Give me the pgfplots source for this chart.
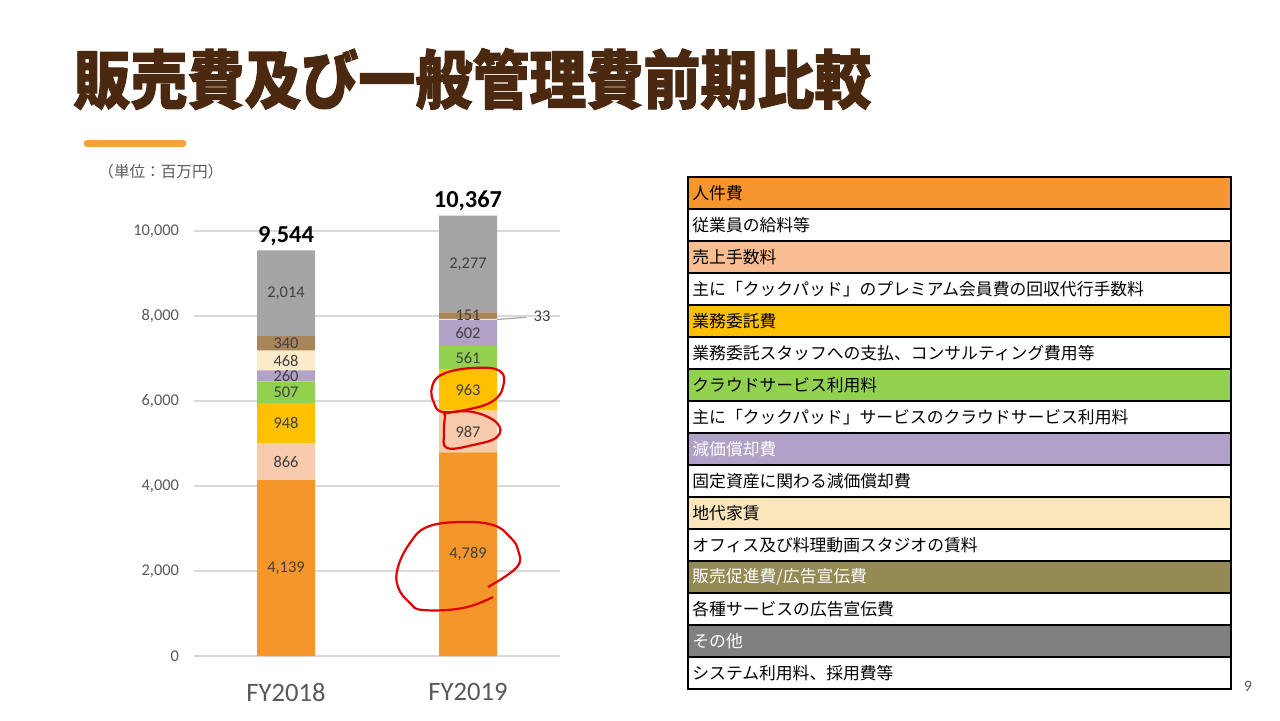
\documentclass[border=0pt]{standalone}
\usepackage{pgfplots}
\usepackage{pgfplotstable}
\pgfplotsset{compat=1.18}
\usepackage{fontspec}
\setmainfont{Carlito}
\newfontfamily\cjk{Noto Sans CJK JP}
\newfontfamily\cjktitle[BoldFeatures={FakeBold=1.6}]{Noto Sans CJK JP}

\definecolor{cPers}{HTML}{F4962B}
\definecolor{cFee}{HTML}{F8CBAD}
\definecolor{cOut}{HTML}{FFC000}
\definecolor{cCloud}{HTML}{92D050}
\definecolor{cDep}{HTML}{B3A2C7}
\definecolor{cRent}{HTML}{FCEBCB}
\definecolor{cAd}{HTML}{A9855A}
\definecolor{cOther}{HTML}{A5A5A5}
\definecolor{gridgray}{HTML}{D9D9D9}
\definecolor{labgray}{HTML}{595959}
\definecolor{valgray}{HTML}{404040}
\definecolor{titlebrown}{HTML}{4A2910}
\definecolor{lineorange}{HTML}{F4A23F}
\definecolor{hPers}{HTML}{F7962F}
\definecolor{hFee}{HTML}{F8BD91}
\definecolor{hOut}{HTML}{FFC000}
\definecolor{hCloud}{HTML}{92D050}
\definecolor{hDep}{HTML}{B1A0C7}
\definecolor{hRent}{HTML}{FBE6BC}
\definecolor{hAd}{HTML}{948A54}
\definecolor{hOther}{HTML}{808080}
\definecolor{penred}{HTML}{E00000}

% a: personnel, b: sales fees, c: outsourcing, d: cloud, e: depreciation,
% f: rent, g: promotion/ads, h: other
\pgfplotstableread{
x a b c d e f g h tot
0 4139 866 948 507 260 468 340 2014 9544
1 4789 987 963 561 602 33 151 2277 10367
}\sga

\pgfplotsset{
  slide axis/.style={
    at={(97pt,32pt)}, anchor=south west,
    scale only axis, width=183pt, height=233.75pt,
    xmin=-0.5055, xmax=1.5055, ymin=0, ymax=11000,
  },
  seglabel/.style={
    draw=none, mark=none, nodes near coords, point meta=explicit,
    every node near coord/.append style={anchor=center, text=valgray,
      font=\fontsize{8.2}{9}\selectfont},
  },
}

\begin{document}
\begin{tikzpicture}
\path[use as bounding box] (0,0) rectangle (640pt,360pt);

\begin{axis}[slide axis,
  ybar stacked, bar width=29pt,
  xtick={0,1}, xticklabels={FY2018,FY2019},
  ytick={0,2000,...,10000}, scaled y ticks=false,
  ymajorgrids, grid style={draw=gridgray, line width=0.75pt},
  axis line style={draw=none}, major tick length=0pt,
  tick label style={text=labgray},
  xticklabel style={font=\fontsize{13.3}{15}\selectfont, yshift=-10pt},
  yticklabel style={font=\fontsize{8.2}{10}\selectfont, xshift=-4pt},
  /pgf/number format/.cd, 1000 sep={,}, assume math mode=true]
\addplot[fill=cPers, draw=none] table[x=x, y=a]{\sga};
\addplot[fill=cFee, draw=none] table[x=x, y=b]{\sga};
\addplot[fill=cOut, draw=none] table[x=x, y=c]{\sga};
\addplot[fill=cCloud, draw=none] table[x=x, y=d]{\sga};
\addplot[fill=cDep, draw=none] table[x=x, y=e]{\sga};
\addplot[fill=cRent, draw=none] table[x=x, y=f]{\sga};
\addplot[fill=cAd, draw=none] table[x=x, y=g]{\sga};
\addplot[fill=cOther, draw=none] table[x=x, y=h]{\sga};
\end{axis}

\begin{axis}[slide axis, hide axis, clip=false,
  /pgf/number format/.cd, 1000 sep={,}, assume math mode=true]
\addplot[seglabel] table[x=x, y expr=\thisrow{a}/2, meta=a]{\sga};
\addplot[seglabel] table[x=x, y expr=\thisrow{a}+\thisrow{b}/2, meta=b]{\sga};
\addplot[seglabel] table[x=x, y expr=\thisrow{a}+\thisrow{b}+\thisrow{c}/2, meta=c]{\sga};
\addplot[seglabel] table[x=x, y expr=\thisrow{a}+\thisrow{b}+\thisrow{c}+\thisrow{d}/2, meta=d]{\sga};
\addplot[seglabel] table[x=x, y expr=\thisrow{a}+\thisrow{b}+\thisrow{c}+\thisrow{d}+\thisrow{e}/2, meta=e]{\sga};
\addplot[seglabel, restrict x to domain=-0.5:0.5]
  table[x=x, y expr=\thisrow{a}+\thisrow{b}+\thisrow{c}+\thisrow{d}+\thisrow{e}+\thisrow{f}/2, meta=f]{\sga};
\addplot[seglabel, restrict x to domain=0.5:1.5,
  every node near coord/.append style={xshift=37pt, yshift=1.5pt}]
  table[x=x, y expr=\thisrow{a}+\thisrow{b}+\thisrow{c}+\thisrow{d}+\thisrow{e}+\thisrow{f}/2, meta=f]{\sga};
\addplot[seglabel] table[x=x, y expr=\thisrow{a}+\thisrow{b}+\thisrow{c}+\thisrow{d}+\thisrow{e}+\thisrow{f}+\thisrow{g}/2, meta=g]{\sga};
\addplot[seglabel] table[x=x, y expr=\thisrow{a}+\thisrow{b}+\thisrow{c}+\thisrow{d}+\thisrow{e}+\thisrow{f}+\thisrow{g}+\thisrow{h}/2, meta=h]{\sga};
\addplot[draw=none, mark=none, nodes near coords, point meta=explicit,
  every node near coord/.append style={anchor=south, text=black, yshift=-1pt,
    font=\bfseries\fontsize{12.2}{14}\selectfont}]
  table[x=x, y=tot, meta=tot]{\sga};
\draw[cOther, line width=0.6pt] (axis cs:1.16,7918) -- (axis cs:1.32,7970);
\end{axis}

% slide decorations and the description table, in pixel units
\begin{scope}[x=0.5pt, y=-0.5pt, yshift=360pt]
\node[anchor=west, inner sep=0pt, text=titlebrown, yscale=1.12,
  font=\cjktitle\bfseries\fontsize{28.5}{30}\selectfont]
  at (73,79) {販売費及び一般管理費前期比較};
\draw[lineorange, line width=3.5pt, line cap=round] (87,143) -- (183,143);
\node[anchor=west, inner sep=0pt, text=labgray, font=\cjk\fontsize{7.8}{9}\selectfont]
  at (98,172) {（単位：百万円）};
\node[text=labgray, font=\fontsize{8}{9}\selectfont] at (1248,686) {9};

% red pen marks
\draw[penred, line width=1.1pt] plot[smooth cycle, tension=0.7] coordinates {
  (473,368) (500,371) (503,387) (493,401) (470,409) (443,412) (434,403) (432,387) (443,374)};
\draw[penred, line width=1.1pt] plot[smooth cycle, tension=0.7] coordinates {
  (447,413) (473,412) (497,423) (497,437) (473,445) (447,448) (444,433) (445,417)};
\draw[penred, line width=1.1pt] plot[smooth, tension=0.7] coordinates {
  (488,587) (517,567) (518,550) (510,537) (493,525) (460,522) (427,527) (410,543)
  (398,567) (398,587) (410,603) (423,610) (463,608) (493,597)};

% description table
\foreach \c/\t/\tc [count=\i from 0] in {
  hPers/{人件費}/black,
  white/{従業員の給料等}/black,
  hFee/{売上手数料}/black,
  white/{主に「クックパッド」のプレミアム会員費の回収代行手数料}/black,
  hOut/{業務委託費}/black,
  white/{業務委託スタッフへの支払、コンサルティング費用等}/black,
  hCloud/{クラウドサービス利用料}/black,
  white/{主に「クックパッド」サービスのクラウドサービス利用料}/black,
  hDep/{減価償却費}/white,
  white/{固定資産に関わる減価償却費}/black,
  hRent/{地代家賃}/black,
  white/{オフィス及び料理動画スタジオの賃料}/black,
  hAd/{販売促進費/広告宣伝費}/white,
  white/{各種サービスの広告宣伝費}/black,
  hOther/{その他}/white,
  white/{システム利用料、採用費等}/black} {
  \draw[fill=\c, draw=black, line width=0.75pt]
    (688,177+32*\i) rectangle (1231,209+32*\i);
  \node[anchor=west, inner sep=0pt, text=\tc, font=\cjk\fontsize{8.4}{10}\selectfont]
    at (692,193+32*\i) {\t};
}
\end{scope}
\end{tikzpicture}
\end{document}
